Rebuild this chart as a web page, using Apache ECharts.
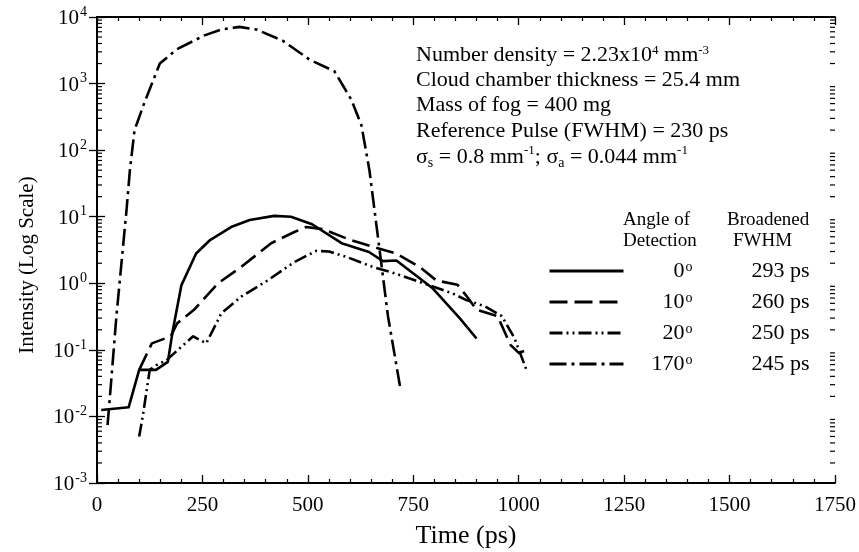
<!DOCTYPE html>
<html><head><meta charset="utf-8">
<script src="https://cdn.jsdelivr.net/npm/echarts@6/dist/echarts.min.js"></script>
<style>html,body{margin:0;padding:0;background:#fff}#c{width:859px;height:552px}</style>
</head><body><div id="c"></div>
<script>
// ---------- data ----------
const seriesNames = ['0', '10', '20', '170'];
const fwhmLabels = ['293 ps', '260 ps', '250 ps', '245 ps'];

const t0 = [10, 75, 100, 140, 168, 180, 200, 235, 267, 318, 362, 420, 460, 510, 580, 645, 678, 710, 795, 860, 900];
const v0 = [0.0125, 0.0137, 0.05, 0.05, 0.066, 0.2, 0.93, 2.8, 4.4, 7.0, 8.9, 10.3, 10, 7.7, 4.0, 2.95, 2.15, 2.2, 0.85, 0.3, 0.148];

const t10 = [100, 130, 175, 190, 230, 287, 342, 413, 468, 496, 536, 600, 670, 710, 765, 805, 855, 880, 900, 950, 980, 1000, 1020];
const v10 = [0.05, 0.125, 0.16, 0.25, 0.4, 1.0, 1.76, 4.0, 5.9, 7.0, 6.5, 4.5, 3.3, 2.8, 1.76, 1.1, 0.95, 0.6, 0.4, 0.32, 0.12, 0.09, 0.1];

const t20 = [100, 109, 125, 141, 165, 192, 228, 259, 295, 342, 405, 469, 520, 550, 591, 654, 700, 765, 844, 876, 920, 960, 990, 1020];
const v20 = [0.005, 0.0105, 0.05, 0.059, 0.07, 0.1, 0.16, 0.125, 0.355, 0.63, 1.11, 2.1, 3.07, 3.0, 2.5, 1.76, 1.45, 1.05, 0.7, 0.56, 0.45, 0.32, 0.15, 0.047];

const t170 = [25, 30, 46, 58, 70, 78, 89, 113, 149, 188, 255, 295, 338, 378, 441, 504, 563, 603, 627, 646, 670, 690, 720];
const v170 = [0.0074, 0.0176, 0.32, 2.0, 12.6, 50, 200, 530, 2000, 3240, 5300, 6500, 7100, 6500, 4380, 2290, 1530, 575, 236, 50, 3.2, 0.32, 0.025];

const xMin = 0, xMax = 1750, xInterval = 250;
const yMin = 1e-3, yMax = 1e4;

// ---------- helpers ----------
const FONT = '"Liberation Serif", "Times New Roman", serif';
const zip = (a, b) => a.map((x, i) => [x, b[i]]);
const minorLeft = [], minorRight = [];
for (let e = -3; e < 4; e++) for (let m = 2; m <= 9; m++) {
  minorLeft.push([xMin, m * Math.pow(10, e)]);
  minorRight.push([xMax, m * Math.pow(10, e)]);
}

const lineStyles = [
  { type: 'solid' },
  { type: [18, 7] },
  { type: [13, 4, 2, 4, 2, 4] },
  { type: [17, 5, 3, 5] }
];

const chart = echarts.init(document.getElementById('c'), null, { renderer: 'canvas' });

const dataSets = [zip(t0, v0), zip(t10, v10), zip(t20, v20), zip(t170, v170)];
const series = dataSets.map((d, i) => ({
  name: seriesNames[i],
  type: 'line',
  data: d,
  symbol: 'none',
  showSymbol: false,
  silent: true,
  animation: false,
  lineStyle: { color: '#000', width: 2.6, type: lineStyles[i].type, cap: 'butt', join: 'round' },
  itemStyle: { color: '#000' }
}));

function tickSeries(name, data, dir) {
  return {
    type: 'custom',
    name: name,
    silent: true,
    animation: false,
    clip: false,
    z: 100,
    data: data,
    renderItem: function (params, api) {
      const p = api.coord([api.value(0), api.value(1)]);
      return {
        type: 'line',
        shape: { x1: p[0], y1: p[1], x2: p[0] + dir * 5, y2: p[1] },
        style: { stroke: '#000', lineWidth: 1.2 }
      };
    }
  };
}
series.push(tickSeries('minorLeft', minorLeft, 1));
series.push(tickSeries('minorRight', minorRight, -1));

const axisLineStyle = { show: true, lineStyle: { color: '#000', width: 2 } };

const supRich = {
  b: { fontFamily: FONT, fontSize: 21, color: '#000', lineHeight: 24, verticalAlign: 'bottom' },
  s: { fontFamily: FONT, fontSize: 14, color: '#000', lineHeight: 24, verticalAlign: 'top', padding: [0, 0, 0, 1] }
};

const option = {
  backgroundColor: '#fff',
  animation: false,
  grid: { left: 97, right: 24, top: 17, bottom: 69, containLabel: false, outerBoundsMode: 'none' },
  xAxis: [
    {
      type: 'value', min: xMin, max: xMax, interval: xInterval, position: 'bottom',
      axisLine: axisLineStyle,
      axisTick: { show: true, inside: true, length: 8, lineStyle: { color: '#000', width: 1.3 } },
      minorTick: { show: true, splitNumber: 5, length: 4, lineStyle: { color: '#000', width: 1.2 } },
      splitLine: { show: false },
      axisLabel: { show: true, margin: 12, fontFamily: FONT, fontSize: 21, color: '#000', formatter: function (v) { return String(v); } },
      name: 'Time (ps)', nameLocation: 'middle', nameGap: 40,
      nameTextStyle: { fontFamily: FONT, fontSize: 26, color: '#000' }
    },
    {
      type: 'value', min: xMin, max: xMax, interval: xInterval, position: 'top',
      axisLine: axisLineStyle,
      axisTick: { show: true, inside: true, length: 8, lineStyle: { color: '#000', width: 1.3 } },
      minorTick: { show: true, splitNumber: 5, length: 4, lineStyle: { color: '#000', width: 1.2 } },
      splitLine: { show: false },
      axisLabel: { show: false }
    }
  ],
  yAxis: [
    {
      type: 'log', logBase: 10, min: yMin, max: yMax, position: 'left',
      axisLine: axisLineStyle,
      axisTick: { show: true, inside: true, length: 8, lineStyle: { color: '#000', width: 1.3 } },
      splitLine: { show: false },
      axisLabel: {
        show: true, margin: 10,
        formatter: function (v) { return '{b|10}{s|' + Math.round(Math.log10(v)) + '}'; },
        rich: supRich
      }
    },
    {
      type: 'log', logBase: 10, min: yMin, max: yMax, position: 'right',
      axisLine: axisLineStyle,
      axisTick: { show: true, inside: true, length: 8, lineStyle: { color: '#000', width: 1.3 } },
      splitLine: { show: false },
      axisLabel: { show: false }
    }
  ],
  legend: {
    show: true,
    orient: 'vertical',
    left: 548,
    top: 260,
    padding: 0,
    itemWidth: 74,
    itemHeight: 14,
    itemGap: 9,
    selectedMode: false,
    itemStyle: { opacity: 0 },
    lineStyle: { width: 3 },
    data: seriesNames,
    formatter: function (name) {
      const i = seriesNames.indexOf(name);
      return '{a|' + name + '}{o|o}{f|' + fwhmLabels[i] + '}';
    },
    textStyle: {
      rich: {
        a: { fontFamily: FONT, fontSize: 22, color: '#000', width: 56, align: 'right', lineHeight: 22, verticalAlign: 'bottom' },
        o: { fontFamily: FONT, fontSize: 14, color: '#000', width: 8, align: 'right', lineHeight: 22, verticalAlign: 'top' },
        f: { fontFamily: FONT, fontSize: 22, color: '#000', width: 117, align: 'right', lineHeight: 22, verticalAlign: 'bottom' }
      }
    }
  },
  graphic: [
    { type: 'text', left: 416, top: 44, style: { text: 'Number density = 2.23x10{s|4} mm{s|-3}', font: '22px ' + FONT, fill: '#000',
        rich: { s: { fontFamily: FONT, fontSize: 13, verticalAlign: 'top', lineHeight: 22 } } } },
    { type: 'text', left: 416, top: 69, style: { text: 'Cloud chamber thickness = 25.4 mm', font: '22px ' + FONT, fill: '#000' } },
    { type: 'text', left: 416, top: 94, style: { text: 'Mass of fog = 400 mg', font: '22px ' + FONT, fill: '#000' } },
    { type: 'text', left: 416, top: 120, style: { text: 'Reference Pulse (FWHM) = 230 ps', font: '22px ' + FONT, fill: '#000' } },
    { type: 'text', left: 416, top: 144, style: { text: '{m|σ}{d|s}{m| = 0.8 mm}{u|-1}{m|; σ}{d|a}{m| = 0.044 mm}{u|-1}', font: '22px ' + FONT, fill: '#000',
        rich: {
          m: { fontFamily: FONT, fontSize: 22, lineHeight: 26, verticalAlign: 'middle' },
          d: { fontFamily: FONT, fontSize: 14, lineHeight: 26, verticalAlign: 'bottom' },
          u: { fontFamily: FONT, fontSize: 13, lineHeight: 26, verticalAlign: 'top' }
        } } },
    { type: 'text', left: 623, top: 211, style: { text: 'Angle of', font: '19px ' + FONT, fill: '#000' } },
    { type: 'text', left: 623, top: 232, style: { text: 'Detection', font: '19px ' + FONT, fill: '#000' } },
    { type: 'text', left: 727, top: 211, style: { text: 'Broadened', font: '19px ' + FONT, fill: '#000' } },
    { type: 'text', left: 733, top: 232, style: { text: 'FWHM', font: '19px ' + FONT, fill: '#000' } },
    { type: 'text', x: 27, y: 265, rotation: Math.PI / 2,
      style: { text: 'Intensity (Log Scale)', font: '21px ' + FONT, fill: '#000', align: 'center', verticalAlign: 'middle' } }
  ],
  series: series
};

chart.setOption(option);
</script>
</body></html>
